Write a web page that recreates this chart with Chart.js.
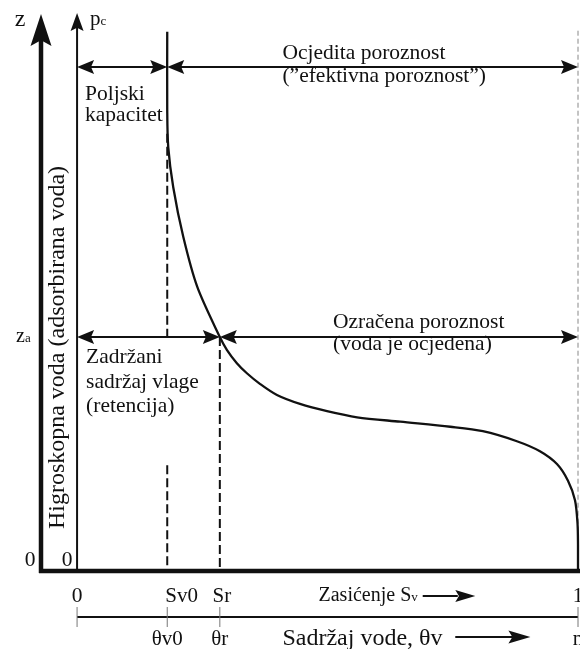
<!DOCTYPE html>
<html>
<head>
<meta charset="utf-8">
<script src="https://cdn.jsdelivr.net/npm/chart.js@4/dist/chart.umd.min.js"></script>
<style>
  html, body { margin: 0; padding: 0; background: #fff; }
  canvas { display: block; }
</style>
</head>
<body>
<canvas id="retentionChart" width="580" height="649"></canvas>
<script>
// saturation Sv of the marked points on the horizontal axis
const satTicks = [0, 0.18, 0.285, 1];
const satLabels = ['0', 'Sv0', 'Sr', '1'];
const thetaLabels = ['', 'θv0', 'θr', 'n'];

// capillary pressure curve pc(Sv), height in % of the axis
const curveSat = [0.18, 0.18, 0.182, 0.192, 0.212, 0.24, 0.285, 0.299, 0.319, 0.339,
                  0.365, 0.399, 0.445, 0.499, 0.559, 0.645, 0.745, 0.81, 0.878,
                  0.924, 0.958, 0.98, 0.994, 0.999, 1.0, 1.0];
const curvePc  = [96.8, 82.8, 76.1, 68.9, 60.0, 51.0, 42.0, 39.7, 37.3, 35.5,
                  33.6, 31.6, 30.0, 28.7, 27.6, 26.8, 25.9, 25.1, 23.3,
                  21.5, 19.2, 16.2, 12.7, 8.6, 4.7, 0];

// heights of the two dimension lines (field capacity, z_a)
const levelFieldCap = 90.5;
const levelZa = 42.0;

// dashed guide lines: [from, to] heights
const sv0UpperDash = [78.5, levelZa];
const sv0LowerDash = [19, 0];
const srDash = [levelZa, 0];
const saturatedDash = [97, 0];

const INK = '#111';
const SERIF = '"Liberation Serif", "DejaVu Serif", serif';

function vline(sat, range) {
  return range.map(v => ({ x: sat, y: v }));
}

function segment(ctx, xa, ya, xb, yb, w) {
  ctx.lineWidth = w;
  ctx.beginPath();
  ctx.moveTo(xa, ya);
  ctx.lineTo(xb, yb);
  ctx.stroke();
}

function head(ctx, tx, ty, dx, dy, len, half) {
  const bx = tx - dx * len, by = ty - dy * len;
  ctx.beginPath();
  ctx.moveTo(tx, ty);
  ctx.lineTo(bx - dy * half, by + dx * half);
  ctx.lineTo(bx + dx * len * 0.18, by + dy * len * 0.18);
  ctx.lineTo(bx + dy * half, by - dx * half);
  ctx.closePath();
  ctx.fill();
}

function dimArrow(ctx, xa, xb, yy) {
  segment(ctx, xa + 4, yy, xb - 4, yy, 2);
  head(ctx, xa, yy, -1, 0, 17, 7);
  head(ctx, xb, yy, 1, 0, 17, 7);
}

function subText(ctx, base, sub, x, y, size, subSize, align) {
  ctx.font = size + 'px ' + SERIF;
  const wb = ctx.measureText(base).width;
  ctx.font = subSize + 'px ' + SERIF;
  const ws = ctx.measureText(sub).width;
  let left = x;
  if (align === 'center') left = x - (wb + ws) / 2;
  ctx.textAlign = 'left';
  ctx.font = size + 'px ' + SERIF;
  ctx.fillText(base, left, y);
  ctx.font = subSize + 'px ' + SERIF;
  ctx.fillText(sub, left + wb, y);
}

const diagram = {
  id: 'diagram',
  afterDatasetsDraw(chart) {
    const { ctx, chartArea: a, scales: { x, y } } = chart;
    const px = v => x.getPixelForValue(v);
    const py = v => y.getPixelForValue(v);
    const x0 = px(0), x1 = px(1), yb = py(0);
    const ySv0 = px(satTicks[1]), ySr = px(satTicks[2]);

    ctx.save();
    ctx.fillStyle = INK;
    ctx.strokeStyle = INK;
    ctx.lineCap = 'butt';

    // z axis (thick) and pc axis
    segment(ctx, a.left, yb + 2, a.left, a.top + 25, 4.5);
    head(ctx, a.left, a.top, 0, -1, 32, 10.5);
    segment(ctx, x0, yb, x0, a.top + 12, 2);
    head(ctx, x0, a.top - 1, 0, -1, 18, 6.5);

    // bottom axis
    segment(ctx, a.left - 2, yb, x1 + 2, yb, 4.5);

    // dimension arrows
    const yFc = py(levelFieldCap), yZa = py(levelZa);
    dimArrow(ctx, x0, ySv0, yFc);
    dimArrow(ctx, ySv0, x1, yFc);
    dimArrow(ctx, x0, ySr, yZa);
    dimArrow(ctx, ySr, x1, yZa);

    ctx.textBaseline = 'alphabetic';
    const f = 21.5;

    // axis names
    ctx.font = '24px ' + SERIF;
    ctx.textAlign = 'center';
    ctx.fillText('z', a.left - 21, a.top + 12);
    subText(ctx, 'p', 'c', x0 + 13, a.top + 11, 21, 13, 'left');
    subText(ctx, 'z', 'a', a.left - 25, yZa + 5, 20, 13, 'left');

    // zeros
    ctx.font = f + 'px ' + SERIF;
    ctx.textAlign = 'center';
    ctx.fillText('0', a.left - 11, yb - 5);
    ctx.fillText('0', x0 - 10, yb - 5);

    // region labels
    ctx.textAlign = 'left';
    ctx.fillText('Poljski', x0 + 8, yFc + 33);
    ctx.fillText('kapacitet', x0 + 8, yFc + 54);
    ctx.fillText('Ocjedita poroznost', px(0.41), yFc - 8);
    ctx.fillText('(\u201Defektivna poroznost\u201D)', px(0.41), yFc + 15);
    ctx.fillText('Zadržani', x0 + 9, yZa + 26);
    ctx.fillText('sadržaj vlage', x0 + 9, yZa + 51);
    ctx.fillText('(retencija)', x0 + 9, yZa + 75);
    ctx.fillText('Ozračena poroznost', px(0.511), yZa - 9);
    ctx.fillText('(voda je ocjeđena)', px(0.511), yZa + 13);

    // rotated label between the two vertical axes
    ctx.save();
    ctx.translate(a.left + 23, (a.top + yb) / 2 + 55);
    ctx.rotate(-Math.PI / 2);
    ctx.textAlign = 'center';
    ctx.font = '24px ' + SERIF;
    ctx.fillText('Higroskopna voda (adsorbirana voda)', 0, 0);
    ctx.restore();

    // saturation axis labels
    const ySat = yb + 31;
    ctx.font = f + 'px ' + SERIF;
    ctx.textAlign = 'center';
    ctx.fillText(satLabels[0], x0, ySat);
    subText(ctx, 'Sv', '0', ySv0 - 2, ySat, 21, 21, 'left');
    ctx.textAlign = 'center';
    ctx.font = '21px ' + SERIF;
    ctx.fillText(satLabels[2], ySr + 2, ySat);
    ctx.fillText(satLabels[3], x1, ySat);
    subText(ctx, 'Zasićenje S', 'v', px(0.482), ySat - 1, 20, 13, 'left');
    segment(ctx, px(0.69), ySat - 6, px(0.76), ySat - 6, 2);
    head(ctx, px(0.795), ySat - 6, 1, 0, 20, 6);

    // water content axis
    const yTh = yb + 46;
    segment(ctx, x0, yTh, x1, yTh, 2);
    ctx.strokeStyle = '#777';
    satTicks.forEach(s => segment(ctx, px(s), yTh - 10, px(s), yTh + 10, 1));
    ctx.strokeStyle = INK;
    const yThL = yb + 74;
    ctx.font = '21px ' + SERIF;
    ctx.textAlign = 'center';
    ctx.fillText(thetaLabels[1], ySv0, yThL);
    ctx.fillText(thetaLabels[2], ySr, yThL);
    ctx.fillText(thetaLabels[3], x1, yThL);
    ctx.textAlign = 'left';
    ctx.font = '24px ' + SERIF;
    ctx.fillText('Sadržaj vode, θv', px(0.41), yThL);
    segment(ctx, px(0.755), yThL - 8, px(0.87), yThL - 8, 2);
    head(ctx, px(0.905), yThL - 8, 1, 0, 22, 6.5);

    ctx.restore();
  }
};

new Chart(document.getElementById('retentionChart'), {
  type: 'scatter',
  data: {
    datasets: [
      {
        label: 'pc(Sv)',
        data: curveSat.map((s, i) => ({ x: s, y: curvePc[i] })),
        showLine: true,
        borderColor: INK,
        borderWidth: 2.3,
        tension: 0.3,
        pointRadius: 0,
        clip: false
      },
      {
        data: vline(satTicks[1], sv0UpperDash),
        showLine: true, borderColor: INK, borderWidth: 2,
        borderDash: [9, 4], pointRadius: 0, clip: false
      },
      {
        data: vline(satTicks[1], sv0LowerDash),
        showLine: true, borderColor: INK, borderWidth: 2,
        borderDash: [9, 4], pointRadius: 0, clip: false
      },
      {
        data: vline(satTicks[2], srDash),
        showLine: true, borderColor: INK, borderWidth: 2,
        borderDash: [9, 4], pointRadius: 0, clip: false
      },
      {
        data: vline(satTicks[3], saturatedDash),
        showLine: true, borderColor: '#888', borderWidth: 1,
        borderDash: [5, 3], pointRadius: 0, clip: false
      }
    ]
  },
  options: {
    responsive: false,
    animation: false,
    layout: { padding: { left: 41, right: 2, top: 14, bottom: 78 } },
    plugins: { legend: { display: false }, tooltip: { enabled: false } },
    scales: {
      x: { type: 'linear', display: false, min: -0.072, max: 1 },
      y: { type: 'linear', display: false, min: 0, max: 100 }
    }
  },
  plugins: [diagram]
});
</script>
</body>
</html>
